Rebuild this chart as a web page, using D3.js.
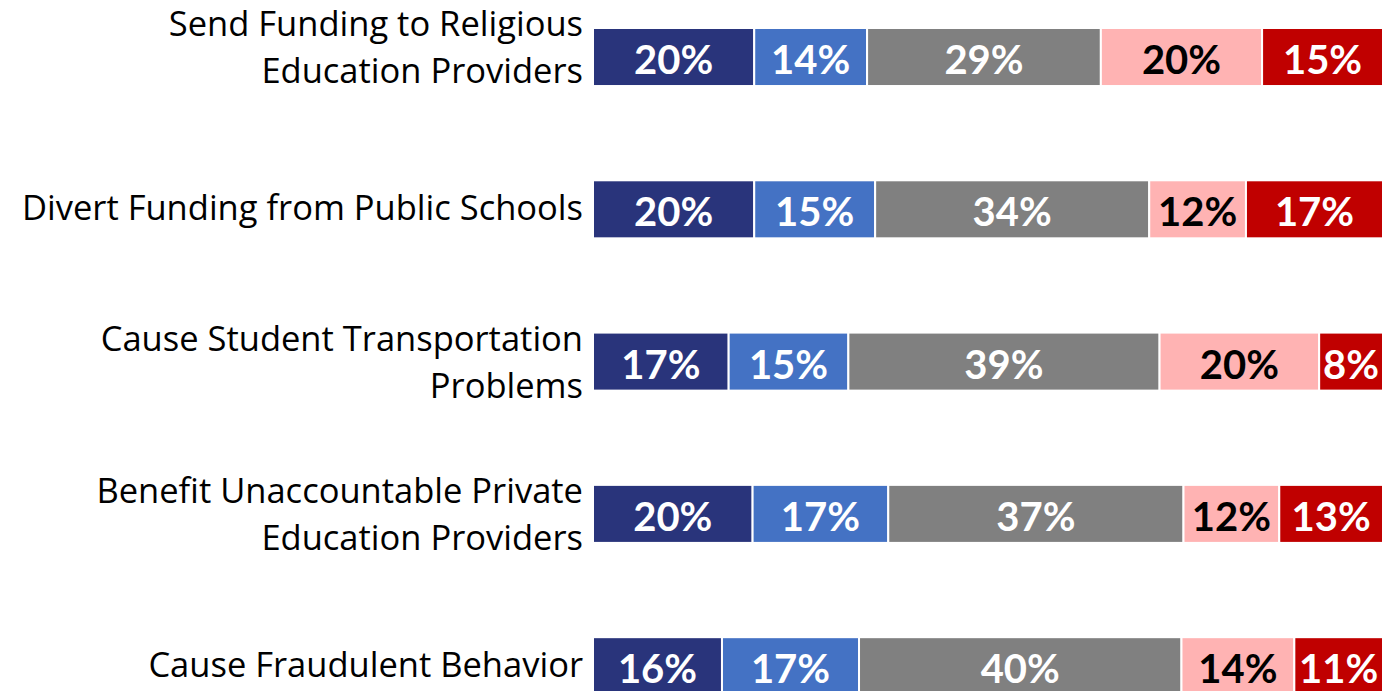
<!DOCTYPE html>
<html><head><meta charset="utf-8">
<script src="https://cdn.jsdelivr.net/npm/d3@7"></script>
<style>html,body{margin:0;padding:0;background:#fff;overflow:hidden}</style>
</head><body>
<svg id="chart" width="1383" height="691"></svg>
<script>
const categories = [
  ["Send Funding to Religious", "Education Providers"],
  ["Divert Funding from Public Schools"],
  ["Cause Student Transportation", "Problems"],
  ["Benefit Unaccountable Private", "Education Providers"],
  ["Cause Fraudulent Behavior"]
];
const seriesKeys = ["s1", "s2", "s3", "s4", "s5"];
const s1 = [20, 20, 17, 20, 16];
const s2 = [14, 15, 15, 17, 17];
const s3 = [29, 34, 39, 37, 40];
const s4 = [20, 12, 20, 12, 14];
const s5 = [15, 17, 8, 13, 11];
const colors = ["#29347B", "#4472C4", "#808080", "#FFB3B3", "#C00000"];
const textColors = ["#fff", "#fff", "#fff", "#000", "#fff"];

const seriesVals = [s1, s2, s3, s4, s5];
const rows = categories.map((c, i) => {
  const o = {idx: i};
  seriesKeys.forEach((k, j) => o[k] = seriesVals[j][i]);
  return o;
});

const svg = d3.select("#chart");
const x = d3.scaleLinear().domain([0, 1]).range([593, 1383]);
const y = d3.scaleBand().domain(d3.range(categories.length))
  .range([28, 695.2]).paddingInner(0.619).paddingOuter(0);

const stack = d3.stack().keys(seriesKeys).offset(d3.stackOffsetExpand);
const layers = stack(rows);

const g = svg.append("g");
layers.forEach((layer, j) => {
  const lg = g.append("g");
  lg.selectAll("rect").data(layer).join("rect")
    .attr("x", d => x(d[0]))
    .attr("y", (d, i) => y(i))
    .attr("width", d => x(d[1]) - x(d[0]))
    .attr("height", y.bandwidth())
    .attr("fill", colors[j])
    .attr("stroke", "#fff").attr("stroke-width", 2);
  lg.selectAll("text").data(layer).join("text")
    .attr("x", d => (x(d[0]) + x(d[1])) / 2)
    .attr("y", (d, i) => y(i) + y.bandwidth() / 2 + 17)
    .attr("text-anchor", "middle")
    .attr("font-family", "Lato, sans-serif")
    .attr("font-weight", "bold")
    .attr("font-size", 40)
    .attr("fill", textColors[j])
    .text((d, i) => seriesVals[j][i] + "%");
});

// category labels, vertically centred on the band (top label lifted as in the original)
const lineH = 47, firstRowLift = 10;
const lg = svg.append("g");
categories.forEach((lines, i) => {
  const cy = y(i) + y.bandwidth() / 2;
  const t = lg.append("text")
    .attr("text-anchor", "end")
    .attr("font-family", "'Open Sans', sans-serif")
    .attr("font-size", 34.5)
    .attr("fill", "#000");
  let first = cy + 11 - (lines.length - 1) * lineH / 2 + (lines.length - 1) * 1.5;
  if (i === 0) first -= firstRowLift;
  lines.forEach((ln, k) => {
    t.append("tspan").attr("x", 583).attr("y", first + k * lineH).text(ln);
  });
});
</script>
</body></html>
